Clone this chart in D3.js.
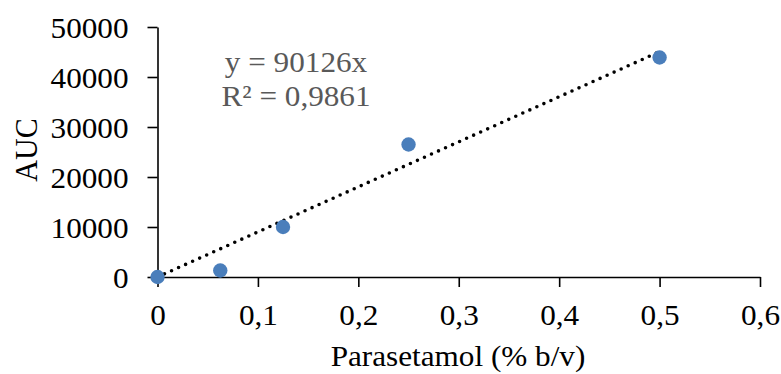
<!DOCTYPE html>
<html lang="en">
<head>
    <meta charset="UTF-8">
    <title>AUC vs Parasetamol</title>
    <script src="https://cdn.jsdelivr.net/npm/d3@7"></script>
    <style>
        body { margin: 0; background: #fff; }
    </style>
</head>
<body>
    <div id="chart"></div>
    <script>
// data
const conc = [0, 0.0625, 0.125, 0.25, 0.5];
const auc = [0, 1300, 10000, 26500, 43900];
const xTicks = [0, 0.1, 0.2, 0.3, 0.4, 0.5, 0.6];
const yTicks = [0, 10000, 20000, 30000, 40000, 50000];
const slope = 90126;
const trendX = [0, 0.5];
const eqLines = ["y = 90126x", "R² = 0,9861"];

const width = 781, height = 374;
const font = '"Liberation Serif"';
const fs = "30px";
const sx = 1.04; // reference text is a touch wide

const svg = d3.select("#chart").append("svg")
    .attr("width", width)
    .attr("height", height);

const x = d3.scaleLinear().domain([0, 0.6]).range([157.5, 760]);
const y = d3.scaleLinear().domain([0, 50000]).range([277, 27]);

// axes
const xAxis = svg.append("g")
    .attr("transform", `translate(0, ${y(0)})`)
    .call(d3.axisBottom(x).tickValues(xTicks).tickSize(10).tickSizeOuter(0)
        .tickFormat(d => d3.format("")(d).replace(".", ",")));
const yAxis = svg.append("g")
    .attr("transform", `translate(${x(0)}, 0)`)
    .call(d3.axisLeft(y).tickValues(yTicks).tickSize(10).tickSizeOuter(0).tickFormat(d3.format("d")));

[xAxis, yAxis].forEach(g => {
    g.select(".domain").attr("stroke", "#000").attr("stroke-width", 1.6);
    g.selectAll(".tick line").attr("stroke", "#000").attr("stroke-width", 1.6);
    g.selectAll(".tick text").attr("fill", "#000")
        .style("font-size", fs).style("font-family", font);
});
xAxis.selectAll(".tick text").attr("y", 48).attr("dy", 0)
    .attr("transform", `scale(${sx},1)`);
yAxis.selectAll(".tick text").attr("x", -29 / sx).attr("dy", "0.34em")
    .attr("transform", `scale(${sx},1)`);

// trend line
svg.append("line")
    .attr("x1", x(trendX[0])).attr("y1", y(slope * trendX[0]))
    .attr("x2", x(trendX[1])).attr("y2", y(slope * trendX[1]))
    .attr("stroke", "#000")
    .attr("stroke-width", 3.6)
    .attr("stroke-linecap", "round")
    .attr("stroke-dasharray", "0 7.7");

// points
svg.selectAll("circle")
    .data(conc.map((c, i) => ({ c, v: auc[i] })))
    .enter()
    .append("circle")
    .attr("cx", d => x(d.c))
    .attr("cy", d => y(d.v))
    .attr("r", 7.2)
    .attr("fill", "#4a7ebb");

// equation
svg.append("g")
    .attr("transform", `translate(296, 0) scale(${sx},1)`)
    .selectAll("text")
    .data(eqLines)
    .enter()
    .append("text")
    .attr("x", 0)
    .attr("y", (d, i) => 72 + i * 34)
    .attr("text-anchor", "middle")
    .attr("fill", "#595959")
    .style("font-family", font)
    .style("font-size", fs)
    .text(d => d);

// axis titles
svg.append("text")
    .attr("transform", `translate(458, 366) scale(${sx},1)`)
    .attr("text-anchor", "middle")
    .style("font-family", font)
    .style("font-size", fs)
    .text("Parasetamol (% b/v)");

svg.append("text")
    .attr("transform", `translate(37, 150) rotate(-90) scale(1,${sx})`)
    .attr("text-anchor", "middle")
    .style("font-family", font)
    .style("font-size", fs)
    .text("AUC");
    </script>
</body>
</html>
